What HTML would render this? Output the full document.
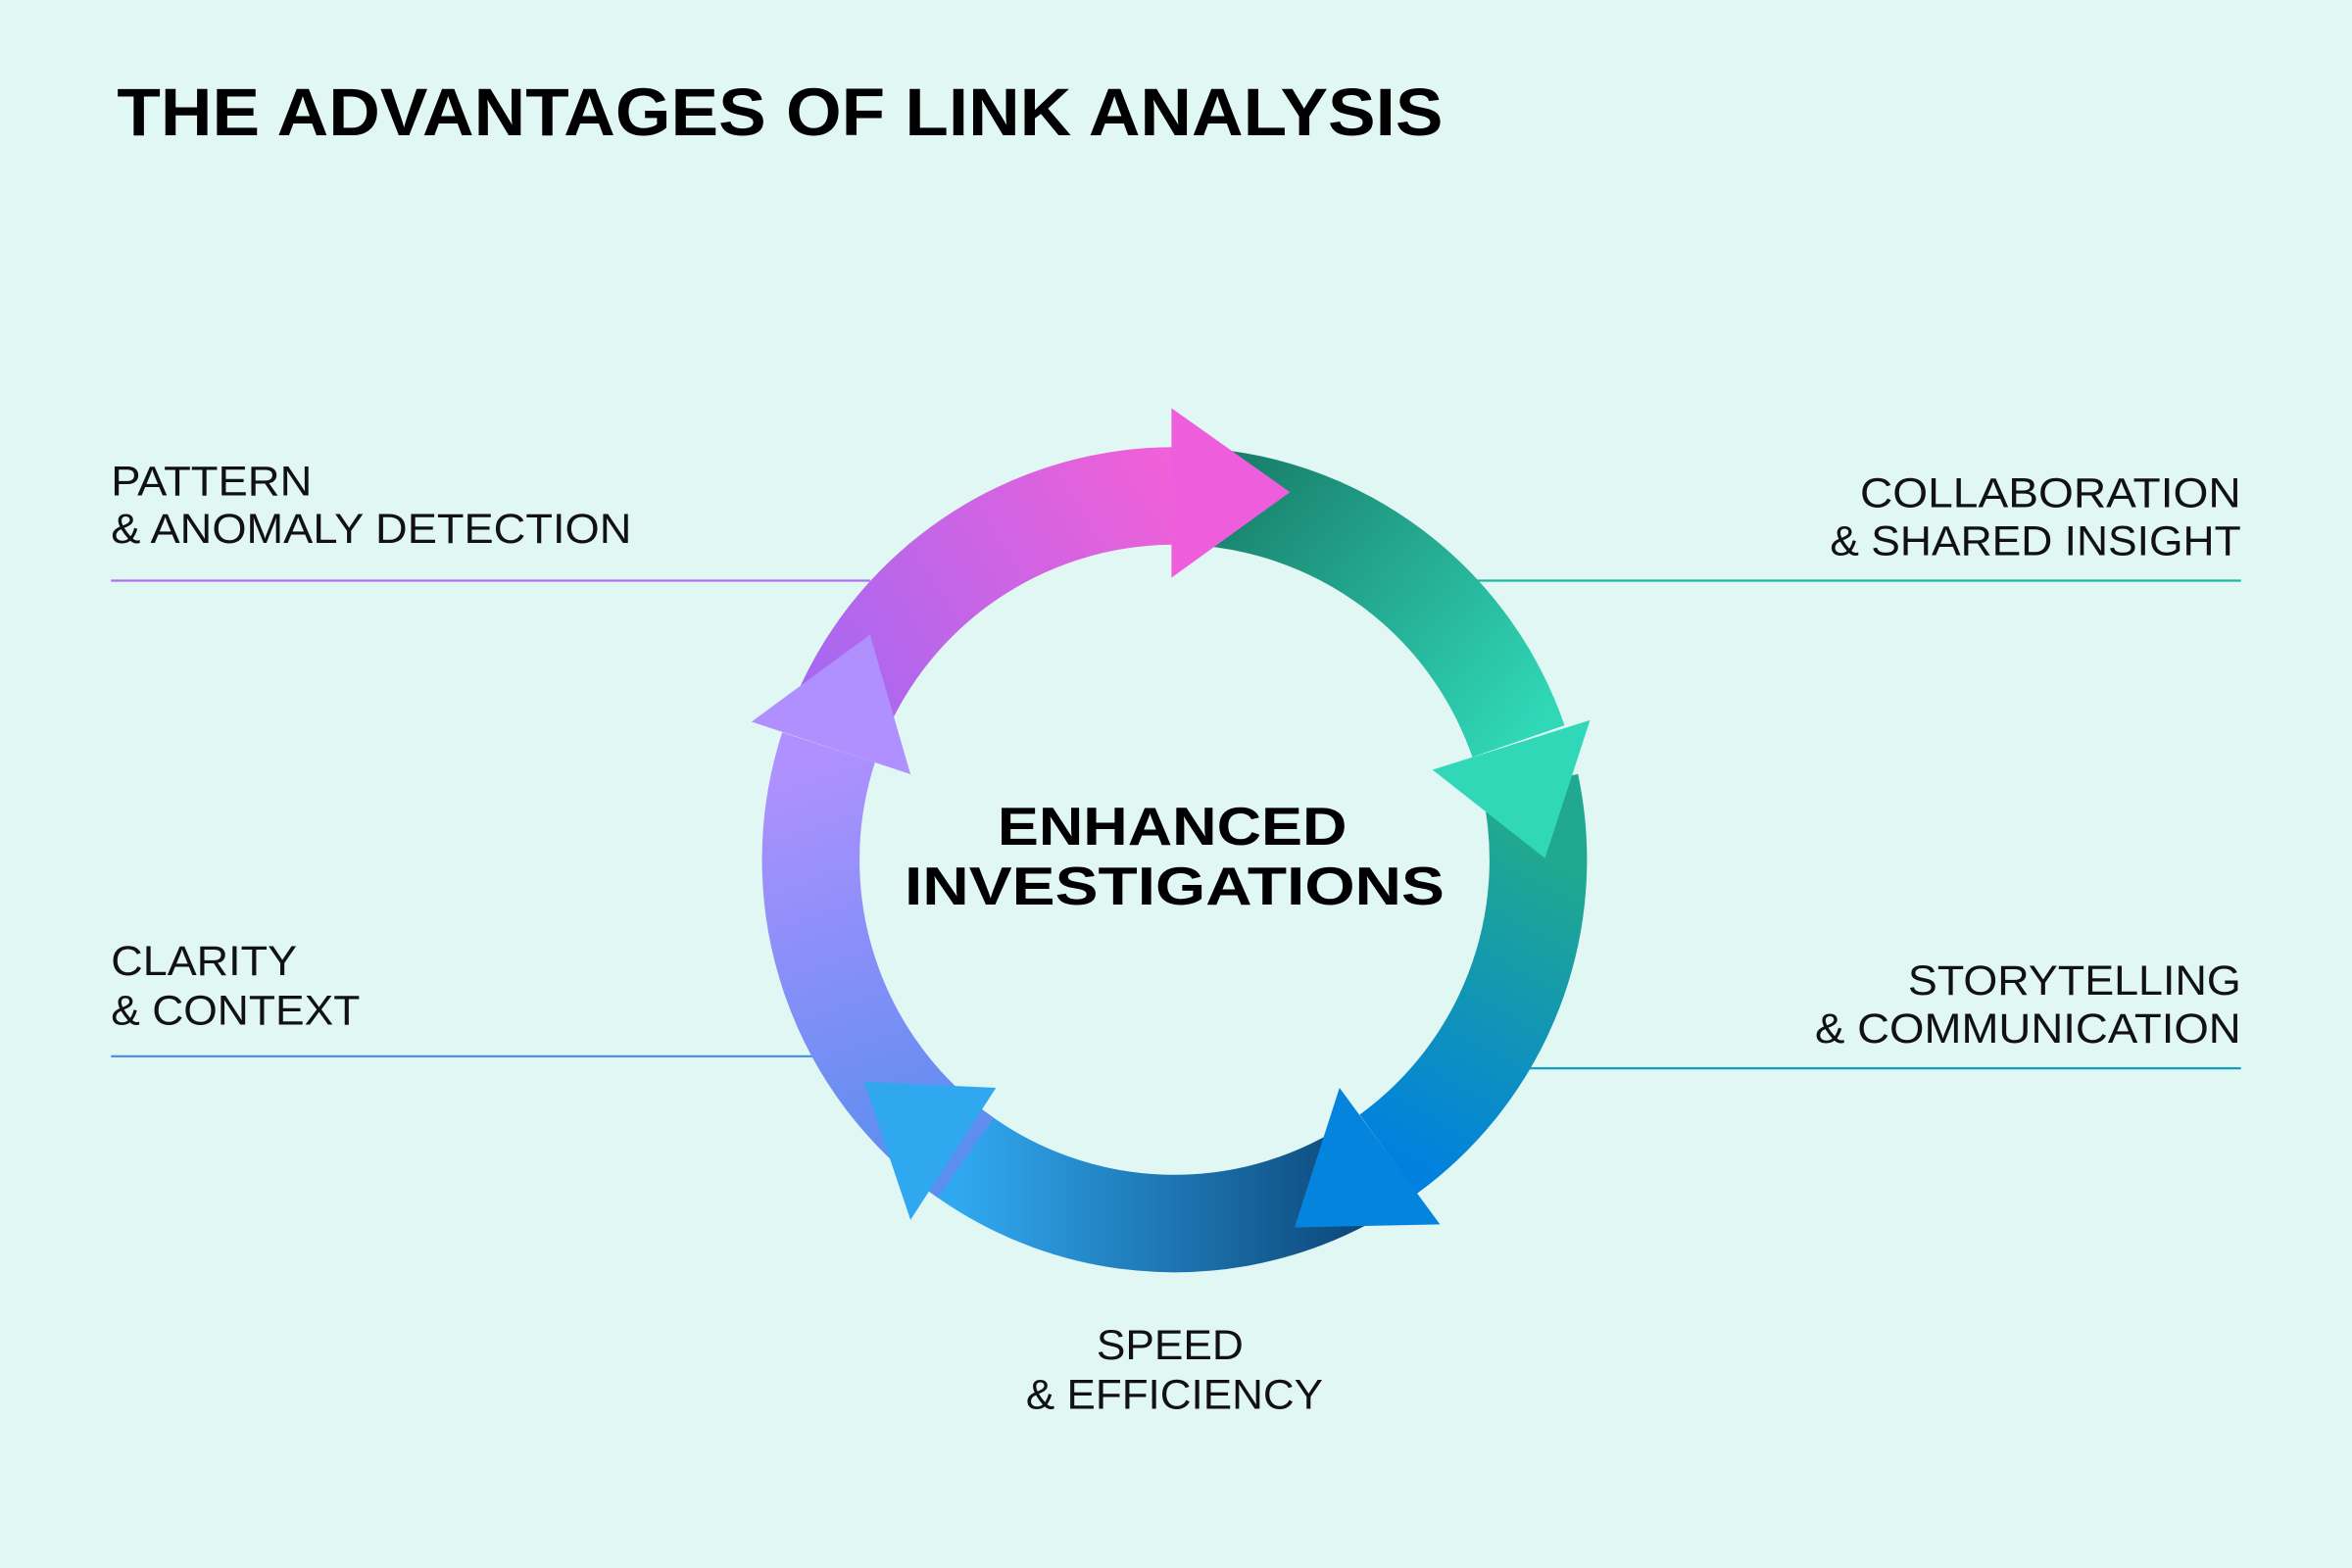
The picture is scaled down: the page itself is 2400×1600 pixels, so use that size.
<!DOCTYPE html>
<html><head><meta charset="utf-8"><style>
html,body{margin:0;padding:0;background:#e0f7f3;}
svg{display:block;}
text{font-family:"Liberation Sans",sans-serif;}
</style></head><body>
<svg width="2400" height="1600" viewBox="0 0 1568 1045" preserveAspectRatio="none" xmlns="http://www.w3.org/2000/svg">
<defs>
<linearGradient id="gTop" gradientUnits="userSpaceOnUse" x1="560" y1="470" x2="790" y2="330"><stop offset="0" stop-color="#a868f0"/><stop offset="1" stop-color="#f060d8"/></linearGradient>
<linearGradient id="gGreen" gradientUnits="userSpaceOnUse" x1="800" y1="320" x2="1010" y2="500"><stop offset="0" stop-color="#187a68"/><stop offset="1" stop-color="#30d8b8"/></linearGradient>
<linearGradient id="gBlueR" gradientUnits="userSpaceOnUse" x1="1030" y1="570" x2="920" y2="770"><stop offset="0" stop-color="#20a890"/><stop offset="1" stop-color="#0080e0"/></linearGradient>
<linearGradient id="gBot" gradientUnits="userSpaceOnUse" x1="930" y1="770" x2="640" y2="770"><stop offset="0" stop-color="#0a4070"/><stop offset="1" stop-color="#30a8f0"/></linearGradient>
<linearGradient id="gLeft" gradientUnits="userSpaceOnUse" x1="640" y1="770" x2="550" y2="500"><stop offset="0" stop-color="#5a8ef0"/><stop offset="1" stop-color="#b090ff"/></linearGradient>
</defs>
<rect width="1568" height="1045" fill="#e0f7f3"/>
<text x="78" y="90" font-size="45" font-weight="900" fill="#000" textLength="884" lengthAdjust="spacingAndGlyphs">THE ADVANTAGES OF LINK ANALYSIS</text>

<line x1="74" y1="387" x2="580" y2="387" stroke="#b070f0" stroke-width="1.5"/>
<line x1="985" y1="387" x2="1494" y2="387" stroke="#20b8a0" stroke-width="1.5"/>
<line x1="74" y1="704" x2="560" y2="704" stroke="#5090e8" stroke-width="1.5"/>
<line x1="990" y1="712" x2="1494" y2="712" stroke="#10a0c0" stroke-width="1.5"/>

<g fill="none" stroke-width="65">
<path d="M563.2 470.5 A242.5 242.5 0 0 1 783 330.5" stroke="url(#gTop)"/>
<path d="M791.5 330.6 A242.5 242.5 0 0 1 1012.3 494" stroke="url(#gGreen)"/>
<path d="M1020.2 522.6 A242.5 242.5 0 0 1 925.5 769.2" stroke="url(#gBlueR)"/>
<path d="M911.5 778.6 A242.5 242.5 0 0 1 637.1 766.7" stroke="url(#gBot)"/>
<path d="M643.9 771.7 A242.5 242.5 0 0 1 552.4 498.1" stroke="url(#gLeft)"/>
</g>
<polygon points="781,272 860,328 781,385" fill="#ee5edc"/>
<polygon points="1060,480 1030,572 955,513" fill="#30d8b8"/>
<polygon points="893,725 863,818 960,816" fill="#0484dc"/>
<polygon points="576,721 664,725 607,813" fill="#30a8f0"/>
<polygon points="501,481 580,423 607,516" fill="#b090ff"/>

<g font-size="28" fill="#111">
<text x="74" y="330" textLength="134" lengthAdjust="spacingAndGlyphs">PATTERN</text>
<text x="74" y="362" textLength="347" lengthAdjust="spacingAndGlyphs">&amp; ANOMALY DETECTION</text>
<text x="74" y="650" textLength="124" lengthAdjust="spacingAndGlyphs">CLARITY</text>
<text x="74" y="683" textLength="166" lengthAdjust="spacingAndGlyphs">&amp; CONTEXT</text>
<text x="1240" y="338" textLength="254" lengthAdjust="spacingAndGlyphs">COLLABORATION</text>
<text x="1220" y="370" textLength="274" lengthAdjust="spacingAndGlyphs">&amp; SHARED INSIGHT</text>
<text x="1272" y="663" textLength="222" lengthAdjust="spacingAndGlyphs">STORYTELLING</text>
<text x="1210" y="695" textLength="284" lengthAdjust="spacingAndGlyphs">&amp; COMMUNICATION</text>
<text x="731" y="906" textLength="98" lengthAdjust="spacingAndGlyphs">SPEED</text>
<text x="684" y="939" textLength="198" lengthAdjust="spacingAndGlyphs">&amp; EFFICIENCY</text>
</g>
<g font-size="36" font-weight="900" fill="#000">
<text x="665" y="563" textLength="233" lengthAdjust="spacingAndGlyphs">ENHANCED</text>
<text x="603" y="603" textLength="360" lengthAdjust="spacingAndGlyphs">INVESTIGATIONS</text>
</g>
</svg>
</body></html>
